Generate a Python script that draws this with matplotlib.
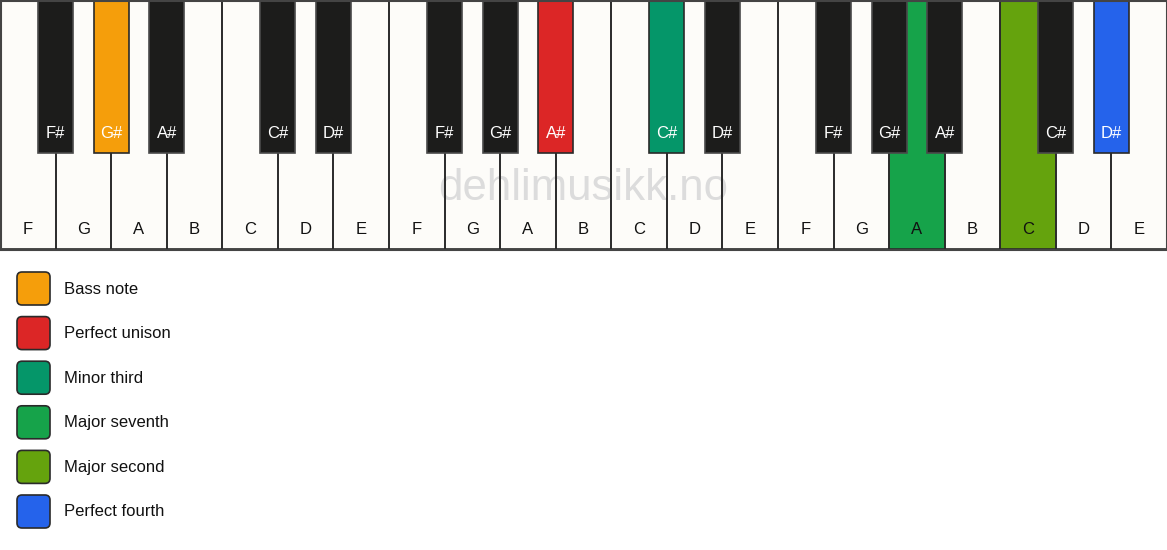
import matplotlib.pyplot as plt
from matplotlib.patches import Rectangle, FancyBboxPatch

plt.rcParams['font.family'] = ['Liberation Sans', 'DejaVu Sans']

# keyboard: three octaves F..E
white_notes = ['F', 'G', 'A', 'B', 'C', 'D', 'E'] * 3
# black key that sits after each white key (None where there is none)
black_after = {'F': 'F#', 'G': 'G#', 'A': 'A#', 'C': 'C#', 'D': 'D#'}

# highlighted keys: (white key index, is_black) -> colour
highlights = {
  (1, True): '#F59E0B',   # G# bass note
  (9, True): '#DC2626',   # A# perfect unison
  (11, True): '#059669',  # C# minor third
  (16, False): '#16A34A', # A major seventh
  (18, False): '#65A30D', # C major second
  (19, True): '#2563EB',  # D# perfect fourth
}

legend_labels = ['Bass note', 'Perfect unison', 'Minor third',
                 'Major seventh', 'Major second', 'Perfect fourth']
legend_colors = ['#F59E0B', '#DC2626', '#059669', '#16A34A', '#65A30D', '#2563EB']

W_PX, H_PX = 1167, 550
white_w = W_PX / len(white_notes)
white_h = 249
black_w = 35
black_h = 153
white_fill = '#FDFCF9'
black_fill = '#1C1C1B'

fig = plt.figure(figsize=(W_PX / 100, H_PX / 100), dpi=100)
ax = fig.add_axes([0, 0, 1, 1])
ax.set_xlim(0, W_PX)
ax.set_ylim(H_PX, 0)
ax.axis('off')

# white keys: fill first, edges on top of the watermark
for i, note in enumerate(white_notes):
  col = highlights.get((i, False), white_fill)
  ax.add_patch(Rectangle((i * white_w, 0), white_w, white_h,
                         facecolor=col, edgecolor='none', zorder=1))
  ax.add_patch(Rectangle((i * white_w, 0), white_w, white_h,
                         facecolor='none', edgecolor='#2a2a2a', lw=1.2, zorder=2))
  ax.text((i + 0.5) * white_w, 230, note, ha='center', va='center',
          fontsize=12, color='#111111', zorder=5)

# watermark
ax.text(W_PX / 2, 188, 'dehlimusikk.no', ha='center', va='center',
        fontsize=31.5, color='#dcdcdc', zorder=1.5)

# black keys
for i, note in enumerate(white_notes):
  name = black_after.get(note)
  if name is None or i == len(white_notes) - 1:
    continue
  cx = (i + 1) * white_w
  col = highlights.get((i, True))
  edge = '#2a2a2a' if col else '#4a4a4a'
  ax.add_patch(Rectangle((cx - black_w / 2, 0), black_w, black_h,
                         facecolor=col or black_fill, edgecolor=edge, lw=1.2, zorder=3))
  ax.text(cx, 133, name, ha='center', va='center',
          fontsize=12, color='white', zorder=5)

# outer border
ax.add_patch(Rectangle((0.5, 0.5), W_PX - 1, white_h, facecolor='none',
                       edgecolor='#444444', lw=1.5, zorder=4))

# legend
for k, (lab, col) in enumerate(zip(legend_labels, legend_colors)):
  cy = 289 + k * 44.6
  ax.add_patch(FancyBboxPatch((17 + 5, cy - 17 + 5), 33 - 10, 33 - 10,
                              boxstyle='round,pad=5', facecolor=col,
                              edgecolor='#2a2a2a', lw=1.2, zorder=3))
  ax.text(64, cy, lab, ha='left', va='center', fontsize=12, color='#111111')

fig.savefig('out.png', dpi=100, facecolor='white')
